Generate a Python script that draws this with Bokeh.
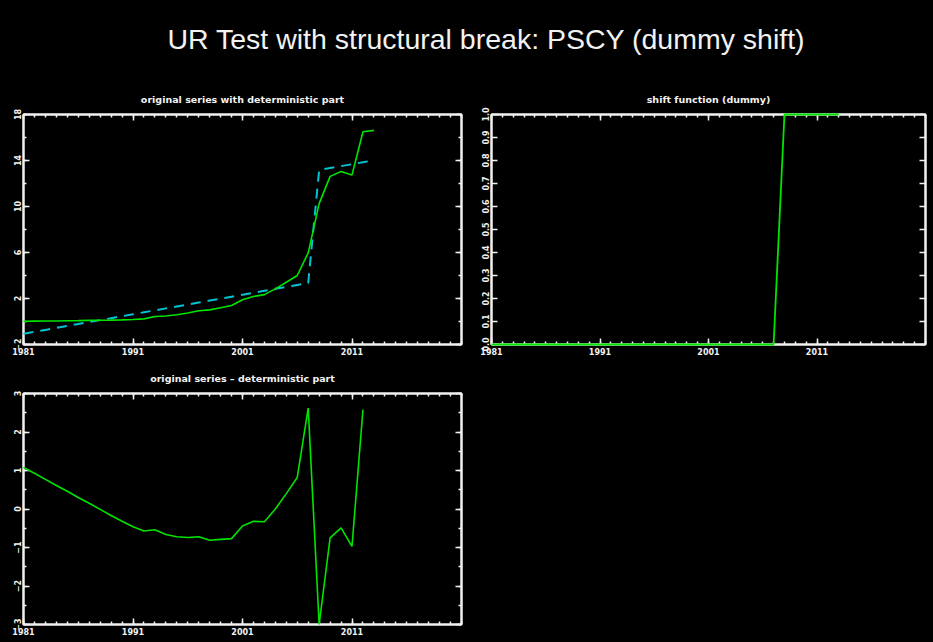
from bokeh.plotting import figure
from bokeh.models import Range1d, FixedTicker, LinearAxis, Label, PrintfTickFormatter
from bokeh.layouts import column, row
from bokeh.embed import file_html
from bokeh.resources import INLINE

# ---------------- data ----------------
main_title = "UR Test with structural break: PSCY (dummy shift)"
title_p1 = "original series with deterministic part"
title_p2 = "shift function (dummy)"
title_p3 = "original series \u2013 deterministic part"

years = [1981, 1982, 1983, 1984, 1985, 1986, 1987, 1988, 1989, 1990,
         1991, 1992, 1993, 1994, 1995, 1996, 1997, 1998, 1999, 2000,
         2001, 2002, 2003, 2004, 2005, 2006, 2007, 2008, 2009, 2010,
         2011, 2012, 2013]

original = [0.01, 0.03, 0.04, 0.05, 0.07, 0.08, 0.10, 0.11, 0.12, 0.14,
            0.17, 0.23, 0.43, 0.48, 0.59, 0.74, 0.93, 1.01, 1.20, 1.39,
            1.89, 2.18, 2.34, 2.84, 3.41, 4.00, 5.97, 10.25, 12.62, 13.05,
            12.74, 16.50, 16.62]

deterministic = [-1.07, -0.90, -0.73, -0.56, -0.39, -0.22, -0.05, 0.12, 0.29, 0.46,
                 0.63, 0.80, 0.97, 1.14, 1.31, 1.48, 1.65, 1.82, 1.99, 2.16,
                 2.33, 2.50, 2.67, 2.84, 3.01, 3.18, 3.35, 13.17, 13.34, 13.51,
                 13.68, 13.85, 14.02]

dummy = [0, 0, 0, 0, 0, 0, 0, 0, 0, 0,
         0, 0, 0, 0, 0, 0, 0, 0, 0, 0,
         0, 0, 0, 0, 0, 0, 0, 1, 1, 1,
         1, 1, 1]

resid_years = [1981, 1982, 1983, 1984, 1985, 1986, 1987, 1988, 1989, 1990,
               1991, 1992, 1993, 1994, 1995, 1996, 1997, 1998, 1999, 2000,
               2001, 2002, 2003, 2004, 2005, 2006, 2007, 2008, 2009, 2010,
               2011, 2012]

residual = [1.08, 0.93, 0.77, 0.61, 0.46, 0.30, 0.15, -0.01, -0.17, -0.32,
            -0.46, -0.57, -0.54, -0.66, -0.72, -0.74, -0.72, -0.81, -0.79, -0.77,
            -0.44, -0.32, -0.33, 0.00, 0.40, 0.82, 2.62, -3.00, -0.75, -0.49,
            -0.97, 2.58]

x_ticks = [1981, 1991, 2001, 2011]
x_minor_ticks = list(range(1981, 2022))
x_limits = (1981, 2021)

p1_y_ticks = [-2, 2, 6, 10, 14, 18]
p1_y_minor = [-2, 0, 2, 4, 6, 8, 10, 12, 14, 16, 18]
p1_y_limits = (-2, 18)

p2_y_ticks = [0.0, 0.1, 0.2, 0.3, 0.4, 0.5, 0.6, 0.7, 0.8, 0.9, 1.0]
p2_y_limits = (0, 1)

p3_y_ticks = [-3, -2, -1, 0, 1, 2, 3]
p3_y_minor = [-3, -2.5, -2, -1.5, -1, -0.5, 0, 0.5, 1, 1.5, 2, 2.5, 3]
p3_y_limits = (-3, 3)

# ---------------- style ----------------
BG = "#000000"
FG = "#f2f2f2"
GREEN = "#00e400"
CYAN = "#00c4d4"
TICK_FONT = "DejaVu Sans"


def style_axis(ax, show_labels):
    ax.axis_line_color = FG
    ax.axis_line_width = 2
    ax.major_tick_line_color = FG
    ax.minor_tick_line_color = FG
    ax.major_tick_line_width = 1.5
    ax.minor_tick_line_width = 1.5
    ax.major_tick_in = 6
    ax.major_tick_out = 0
    ax.minor_tick_in = 3
    ax.minor_tick_out = 0
    ax.axis_label = None
    if show_labels:
        ax.major_label_text_color = FG
        ax.major_label_text_font = TICK_FONT
        ax.major_label_text_font_style = "bold"
        ax.major_label_text_font_size = "8px"
        ax.major_label_standoff = 3
    else:
        ax.major_label_text_font_size = "0px"
        ax.major_label_text_alpha = 0
        ax.major_label_standoff = 0


def make_panel(title, width, height, ylim, yticks, yminor, borders, yfmt=None):
    p = figure(width=width, height=height, output_backend="svg",
               toolbar_location=None, x_range=Range1d(*x_limits),
               y_range=Range1d(*ylim))
    p.min_border_left, p.min_border_right, p.min_border_top, p.min_border_bottom = borders
    p.background_fill_color = BG
    p.border_fill_color = BG
    p.outline_line_color = FG
    p.outline_line_width = 2
    p.grid.visible = False

    p.title.text = title
    p.title.align = "center"
    p.title.text_color = FG
    p.title.text_font = TICK_FONT
    p.title.text_font_style = "bold"
    p.title.text_font_size = "9.5px"
    p.title.standoff = 20

    xt = FixedTicker(ticks=x_ticks, minor_ticks=x_minor_ticks)
    yt = FixedTicker(ticks=yticks, minor_ticks=yminor)

    bottom = p.xaxis[0]
    left = p.yaxis[0]
    bottom.ticker = xt
    left.ticker = yt
    left.major_label_orientation = "vertical"
    if yfmt is not None:
        left.formatter = PrintfTickFormatter(format=yfmt)

    top_ax = LinearAxis(ticker=xt)
    right_ax = LinearAxis(ticker=yt)
    p.add_layout(top_ax, "above")
    p.add_layout(right_ax, "right")

    style_axis(bottom, True)
    style_axis(left, True)
    style_axis(top_ax, False)
    style_axis(right_ax, False)
    return p


# header with the main title
header = figure(width=933, height=80, output_backend="svg", toolbar_location=None,
                x_axis_type=None, y_axis_type=None, min_border=0,
                x_range=Range1d(0, 1), y_range=Range1d(0, 1))
header.background_fill_color = BG
header.border_fill_color = BG
header.outline_line_color = None
header.grid.visible = False
header.add_layout(Label(x=463, y=42, x_units="screen", y_units="screen",
                        text=main_title, text_align="center", text_baseline="middle",
                        text_color=FG, text_font="Liberation Sans",
                        text_font_size="28.5px"))

# panel 1: original series with deterministic part
p1 = make_panel(title_p1, 476, 280, p1_y_limits, p1_y_ticks, p1_y_minor, (23, 15, 32, 15))
r = p1.line(years, deterministic, line_color=CYAN, line_width=2, line_dash="10 7")
r.level = "overlay"
r = p1.line(years, original, line_color=GREEN, line_width=1.6)
r.level = "overlay"

# panel 2: shift function
p2 = make_panel(title_p2, 457, 280, p2_y_limits, p2_y_ticks, [], (15, 8, 34, 16), yfmt="%.1f")
r = p2.line(years, dummy, line_color=GREEN, line_width=1.8)
r.level = "overlay"

# panel 3: residual
p3 = make_panel(title_p3, 476, 282, p3_y_limits, p3_y_ticks, p3_y_minor, (23, 15, 32, 18))
r = p3.line(resid_years, residual, line_color=GREEN, line_width=1.6)
r.level = "overlay"

layout = column(header, row(p1, p2, styles={"background-color": BG}), p3,
                styles={"background-color": BG})

open("out.html", "w").write(file_html(layout, INLINE))
